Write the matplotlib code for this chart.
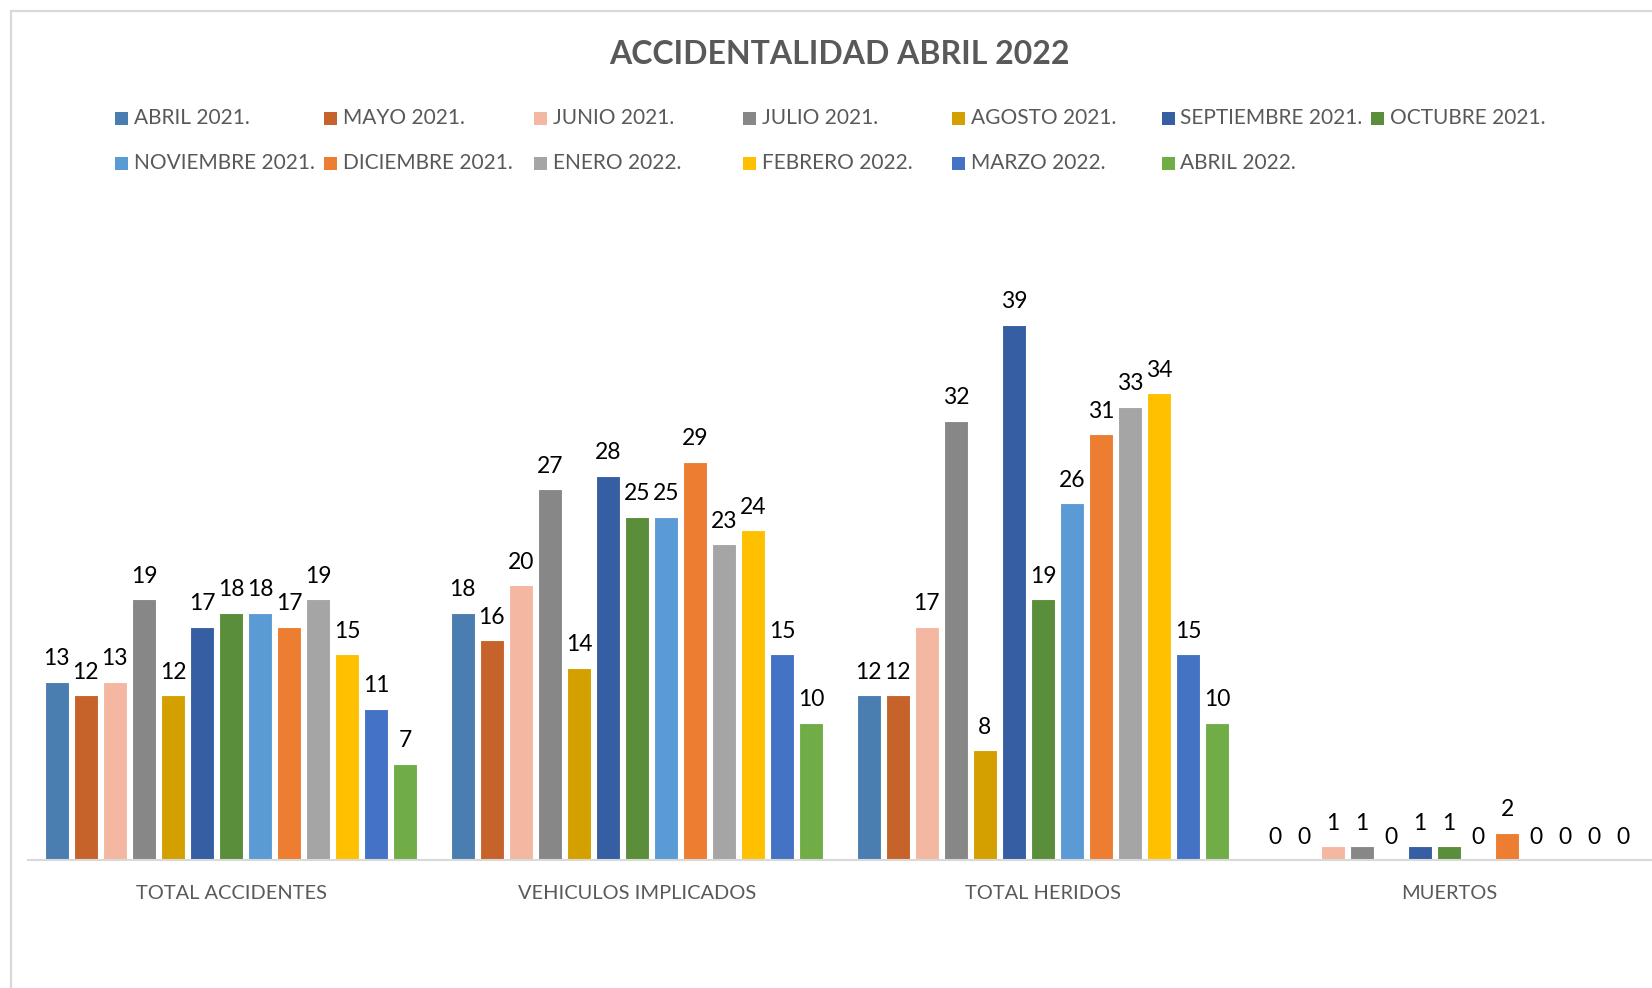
import numpy as np
import matplotlib.pyplot as plt
from matplotlib.patches import Rectangle

plt.rcParams['font.family'] = ['Lato', 'DejaVu Sans']

# categories on the x axis
categorias = ['TOTAL ACCIDENTES', 'VEHICULOS IMPLICADOS', 'TOTAL HERIDOS', 'MUERTOS']

# one series per month
meses = ['ABRIL 2021.', 'MAYO 2021.', 'JUNIO 2021.', 'JULIO 2021.', 'AGOSTO 2021.',
         'SEPTIEMBRE 2021.', 'OCTUBRE 2021.', 'NOVIEMBRE 2021.', 'DICIEMBRE 2021.',
         'ENERO 2022.', 'FEBRERO 2022.', 'MARZO 2022.', 'ABRIL 2022.']

abril_2021 = [13, 18, 12, 0]
mayo_2021 = [12, 16, 12, 0]
junio_2021 = [13, 20, 17, 1]
julio_2021 = [19, 27, 32, 1]
agosto_2021 = [12, 14, 8, 0]
septiembre_2021 = [17, 28, 39, 1]
octubre_2021 = [18, 25, 19, 1]
noviembre_2021 = [18, 25, 26, 0]
diciembre_2021 = [17, 29, 31, 2]
enero_2022 = [19, 23, 33, 0]
febrero_2022 = [15, 24, 34, 0]
marzo_2022 = [11, 15, 15, 0]
abril_2022 = [7, 10, 10, 0]

series = [abril_2021, mayo_2021, junio_2021, julio_2021, agosto_2021,
          septiembre_2021, octubre_2021, noviembre_2021, diciembre_2021,
          enero_2022, febrero_2022, marzo_2022, abril_2022]

colores = ['#4A7EB0', '#C5632A', '#F4B8A2', '#878787', '#D3A000',
           '#365EA3', '#5A8E3A', '#5B9BD5', '#ED7D31',
           '#A5A5A5', '#FFC000', '#4472C4', '#70AD47']

W, H = 1652, 988
fig = plt.figure(figsize=(W / 100, H / 100), dpi=100)

# chart border
fig.patches.append(Rectangle((11 / W, -0.05), 1.1, (H - 11) / H + 0.05, transform=fig.transFigure,
                             fill=False, edgecolor='#D9D9D9', linewidth=1.6))

base_y = 860
ymax = 45
px_unit = 13.73
ax_h = ymax * px_unit
ax = fig.add_axes([28 / W, 1 - base_y / H, (W - 28) / W, ax_h / H])

n = len(series)
slot = 0.93 / n
x = np.arange(len(categorias))
for i, (vals, col) in enumerate(zip(series, colores)):
    pos = x - 0.465 + slot * (i + 0.5)
    bars = ax.bar(pos, vals, width=slot * 0.84, color=col, edgecolor='white', linewidth=0.8)
    for b, v in zip(bars, vals):
        ax.annotate(str(v), (b.get_x() + b.get_width() / 2, v), xytext=(0, 9),
                    textcoords='offset points', ha='center', va='bottom',
                    fontsize=16.5, color='black')

ax.set_xlim(-0.5, len(categorias) - 0.5)
ax.set_ylim(0, ymax)
ax.set_yticks([])
ax.set_xticks(x)
ax.set_xticklabels(categorias, fontsize=14.4, color='#595959')
ax.tick_params(axis='x', length=0, pad=18)
for s in ['top', 'right', 'left']:
    ax.spines[s].set_visible(False)
ax.spines['bottom'].set_color('#D9D9D9')
ax.spines['bottom'].set_linewidth(1.5)
ax.patch.set_visible(False)

fig.text(839 / W, 1 - 54 / H, 'ACCIDENTALIDAD ABRIL 2022', ha='center', va='center',
         fontsize=23, fontweight='bold', color='#595959')

# legend: 7 columns, 2 rows
col_x = 115
col_w = 209.3
row_y = [118, 163]
for i, (m, c) in enumerate(zip(meses, colores)):
    r, k = divmod(i, 7)
    x0 = col_x + k * col_w
    y0 = row_y[r]
    fig.patches.append(Rectangle((x0 / W, 1 - (y0 + 7) / H), 13 / W, 13 / H,
                                 transform=fig.transFigure, facecolor=c, edgecolor='none'))
    fig.text((x0 + 19) / W, 1 - y0 / H, m, ha='left', va='center',
             fontsize=15, color='#595959')

fig.savefig('out.png', dpi=100)
